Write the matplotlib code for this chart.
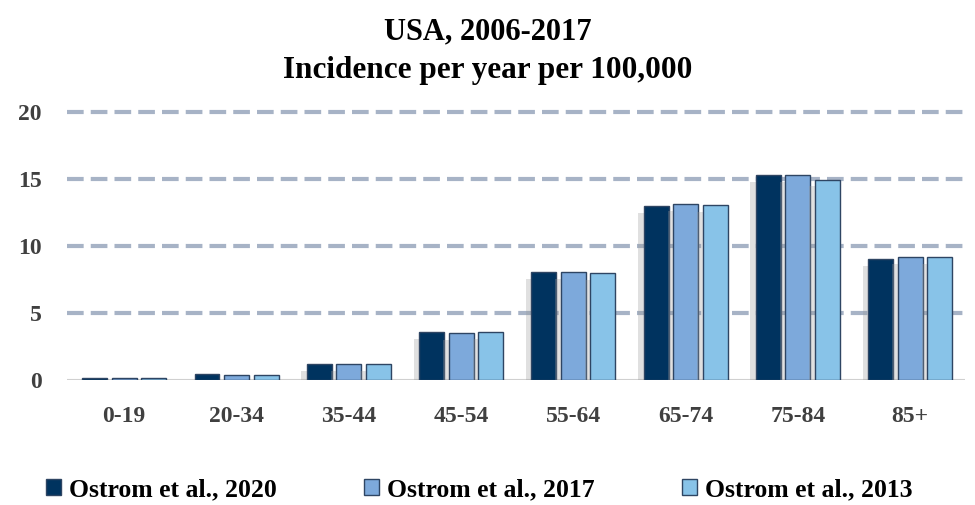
import matplotlib.pyplot as plt
import matplotlib.patheffects as pe
from matplotlib.patches import Patch
import numpy as np

plt.rcParams['font.family'] = ['Liberation Serif', 'DejaVu Serif']
plt.rcParams['font.weight'] = 'bold'

groups = ['0-19', '20-34', '35-44', '45-54', '55-64', '65-74', '75-84', '85+']
ostrom_2020 = [0.15, 0.45, 1.22, 3.55, 8.04, 12.96, 15.3, 9.01]
ostrom_2017 = [0.12, 0.40, 1.17, 3.53, 8.06, 13.13, 15.3, 9.16]
ostrom_2013 = [0.12, 0.40, 1.17, 3.60, 8.01, 13.06, 14.96, 9.21]
series = ['Ostrom et al., 2020', 'Ostrom et al., 2017', 'Ostrom et al., 2013']
colors = ['#00335F', '#7DA9DB', '#88C3E8']
yticks = [0, 5, 10, 15, 20]

fig = plt.figure(figsize=(9.75, 5.05), dpi=100)
ax = fig.add_axes([0.0687, 0.2475, 0.9213, 0.5307])

x = np.arange(len(groups))
step = 0.263
w = 0.222
# ombre grise derriere les barres
shadow = [pe.SimplePatchShadow(offset=(-4, -5), shadow_rgbFace='#999999', alpha=0.3), pe.Normal()]
for i, vals in enumerate([ostrom_2020, ostrom_2017, ostrom_2013]):
    bars = ax.bar(x + (i - 1) * step, vals, w, color=colors[i], edgecolor='#2E4563',
                  linewidth=1, zorder=3)
    for b in bars:
        b.set_path_effects(shadow)

for y in yticks[1:]:
    ax.axhline(y, color='#A7B3C6', lw=3, ls=(0, (4, 1.7)), zorder=1, clip_on=False)
ax.axhline(0, color='#D0D0D0', lw=1.5, zorder=2)

ax.set_xlim(-0.51, 7.49)
ax.set_ylim(0, 20)
ax.set_yticks(yticks)
ax.set_xticks(x)
ax.set_xticklabels(groups)
ax.tick_params(length=0, labelsize=17, colors='#404040')
ax.tick_params(axis='x', pad=19)
ax.tick_params(axis='y', pad=18)
for s in ax.spines.values():
    s.set_visible(False)

fig.text(0.5, 0.936, 'USA, 2006-2017', ha='center', va='center', fontsize=22)
fig.text(0.5, 0.86, 'Incidence per year per 100,000', ha='center', va='center', fontsize=22.5)

handles = [Patch(facecolor=colors[i], edgecolor='#2E4563', linewidth=1) for i in range(3)]
fig.legend(handles, series, loc='center left', bbox_to_anchor=(0.023, 0.03), ncol=3,
           frameon=False, fontsize=18.5, handlelength=0.6, handleheight=0.6,
           handletextpad=0.3, columnspacing=3.4)

fig.savefig('out.png', dpi=100)
